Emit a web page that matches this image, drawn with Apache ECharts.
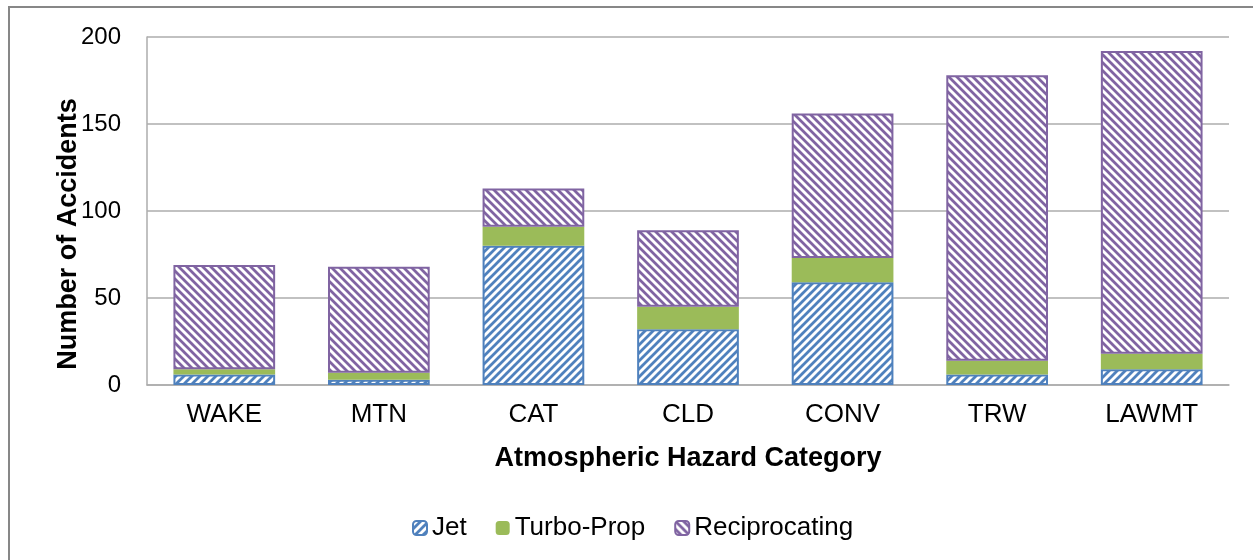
<!DOCTYPE html>
<html>
<head>
<meta charset="utf-8">
<script src="https://cdn.jsdelivr.net/npm/echarts@6/dist/echarts.min.js"></script>
<style>
  html, body { margin: 0; padding: 0; background: #fff; }
  #chart { width: 1253px; height: 560px; }
</style>
</head>
<body>
<div id="chart"></div>
<script>
// Accident counts by atmospheric hazard, split by aircraft engine type
const categories = ['WAKE', 'MTN', 'CAT', 'CLD', 'CONV', 'TRW', 'LAWMT'];
const jet = [6, 3, 80, 32, 59, 6, 9];
const turboProp = [3, 4, 11, 13, 14, 8, 9];
const reciprocating = [60, 61, 22, 44, 83, 164, 174];
const seriesNames = ['Jet', 'Turbo-Prop', 'Reciprocating'];

const BLUE = '#4F81BD';
const GREEN = '#9BBB59';
const PURPLE = '#8064A2';
const GRID_GRAY = '#ACACAC';
const FONT = '"Liberation Sans", Arial, sans-serif';

// Diagonal hatch tile: '/' for up-right stripes, '\\' for down-right stripes
function hatch(color, dir) {
  const s = 8;
  const c = document.createElement('canvas');
  c.width = s; c.height = s;
  const ctx = c.getContext('2d');
  ctx.fillStyle = '#fff';
  ctx.fillRect(0, 0, s, s);
  ctx.strokeStyle = color;
  ctx.lineWidth = 2.8;
  ctx.lineCap = 'square';
  ctx.beginPath();
  if (dir === '/') {
    ctx.moveTo(0, s); ctx.lineTo(s, 0);
    ctx.moveTo(-2, 2); ctx.lineTo(2, -2);
    ctx.moveTo(s - 2, s + 2); ctx.lineTo(s + 2, s - 2);
  } else {
    ctx.moveTo(0, 0); ctx.lineTo(s, s);
    ctx.moveTo(s - 2, -2); ctx.lineTo(s + 2, 2);
    ctx.moveTo(-2, s - 2); ctx.lineTo(2, s + 2);
  }
  ctx.stroke();
  return { image: c, repeat: 'repeat' };
}

const chart = echarts.init(document.getElementById('chart'), null, { renderer: 'canvas' });

chart.setOption({
  animation: false,
  backgroundColor: '#fff',
  textStyle: { fontFamily: FONT, color: '#000' },
  graphic: [{
    type: 'rect',
    shape: { x: 9, y: 7, width: 1400, height: 700 },
    style: { fill: 'none', stroke: '#878787', lineWidth: 2 },
    z: -10,
    silent: true
  }],
  grid: { left: 147, right: 24, top: 37, bottom: 175 },
  legend: {
    data: seriesNames,
    left: 412,
    top: 515,
    padding: 0,
    itemWidth: 14,
    itemHeight: 14,
    itemGap: 29,
    textStyle: { fontSize: 26, fontFamily: FONT, color: '#000' }
  },
  xAxis: {
    type: 'category',
    data: categories,
    name: 'Atmospheric Hazard Category',
    nameLocation: 'middle',
    nameGap: 60,
    nameTextStyle: { fontSize: 27, fontWeight: 'bold', fontFamily: FONT, color: '#000' },
    axisLine: { lineStyle: { color: GRID_GRAY, width: 1.5 } },
    axisTick: { show: false },
    axisLabel: { fontSize: 26, color: '#000', margin: 17 }
  },
  yAxis: {
    type: 'value',
    min: 0,
    max: 200,
    interval: 50,
    name: 'Number of Accidents',
    nameLocation: 'middle',
    nameGap: 65,
    nameMoveOverlap: false,
    nameTextStyle: { fontSize: 27, fontWeight: 'bold', fontFamily: FONT, color: '#000', padding: [0, 46, 0, 0] },
    axisLine: { show: true, lineStyle: { color: GRID_GRAY, width: 1.5 } },
    axisTick: { show: false },
    axisLabel: { fontSize: 24, color: '#000', margin: 26 },
    splitLine: { lineStyle: { color: GRID_GRAY, width: 1.5 } }
  },
  series: [
    {
      name: 'Jet',
      type: 'bar',
      stack: 'total',
      data: jet,
      barWidth: '65.8%',
      itemStyle: { color: hatch(BLUE, '/'), borderColor: BLUE, borderWidth: 2 }
    },
    {
      name: 'Turbo-Prop',
      type: 'bar',
      stack: 'total',
      data: turboProp,
      itemStyle: { color: GREEN }
    },
    {
      name: 'Reciprocating',
      type: 'bar',
      stack: 'total',
      data: reciprocating,
      itemStyle: { color: hatch(PURPLE, '\\'), borderColor: PURPLE, borderWidth: 2 }
    }
  ]
});
</script>
</body>
</html>
